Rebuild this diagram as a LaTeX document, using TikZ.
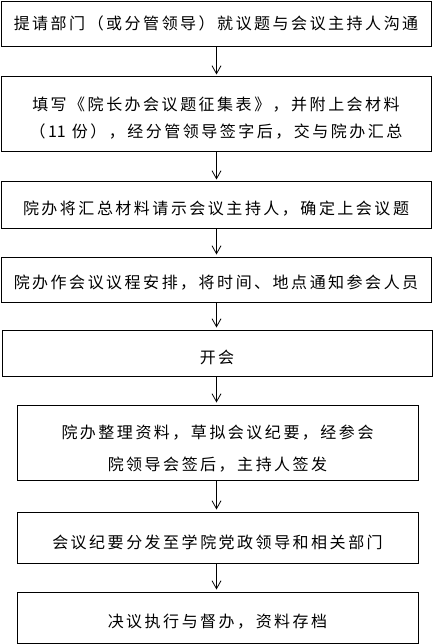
\documentclass[tikz,border=0pt]{standalone}
\usepackage{fontspec}
\newfontfamily\cjk{Noto Sans CJK SC}
\usetikzlibrary{arrows.meta}
\makeatletter
\def\lsp#1{\lsp@a#1\relax}
\def\lsp@a#1{#1\lsp@b}
\def\lsp@b#1{\ifx\relax#1\else\kern2.5pt\relax #1\expandafter\lsp@b\fi}
\makeatother
\tikzset{
  stepbox/.style={draw=black, line width=1pt, rectangle, inner sep=0pt, outer sep=0pt},
  wide/.style={stepbox, minimum width=430pt},
  narrow/.style={stepbox, minimum width=401pt},
  txt/.style={inner sep=0pt, font=\cjk\fontsize{16}{27}\selectfont, text=black},
  flow/.style={draw=black, line width=0.8pt, -{Straight Barb[length=8pt,width=9pt]}, shorten >=2.5pt}
}
\begin{document}
\begin{tikzpicture}[x=1pt,y=-1pt]
\useasboundingbox (0,0) rectangle (433,644);
\node[wide, minimum height=45pt] (b1) at (216,24.5) {};
\node[wide, minimum height=75pt] (b2) at (216,114.5) {};
\node[wide, minimum height=46pt] (b3) at (216,205) {};
\node[wide, minimum height=45pt] (b4) at (216,279.5) {};
\node[wide, minimum height=46pt] (b5) at (217,353) {};
\node[narrow, minimum height=75pt] (b6) at (217.5,442.5) {};
\node[narrow, minimum height=51pt] (b7) at (217.5,537.5) {};
\node[narrow, minimum height=51pt] (b8) at (217.5,617.5) {};

\node[txt] (t1) at ([yshift=1pt]b1.center) {\lsp{提请部门（或分管领导）就议题与会议主持人沟通}};
\node[txt, align=center] (t2) at ([yshift=-4pt]b2.center) {\lsp{填写《院长办会议题征集表》，并附上会材料}\\\lsp{（{11\ }份），经分管领导签字后，交与院办汇总}};
\node[txt] (t3) at ([yshift=-4pt]b3.center) {\lsp{院办将汇总材料请示会议主持人，确定上会议题}};
\node[txt] (t4) at ([yshift=-3pt]b4.center) {\lsp{院办作会议议程安排，将时间、地点通知参会人员}};
\node[txt] (t5) at ([yshift=-4pt]b5.center) {\lsp{开会}};
\node[txt, align=center, font=\cjk\fontsize{16}{32}\selectfont] (t6) at ([yshift=-6pt]b6.center) {\lsp{院办整理资料，草拟会议纪要，经参会}\\\lsp{院领导会签后，主持人签发}};
\node[txt] (t7) at ([yshift=-5pt]b7.center) {\lsp{会议纪要分发至学院党政领导和相关部门}};
\node[txt] (t8) at ([yshift=-4.5pt]b8.center) {\lsp{决议执行与督办，资料存档}};

\draw[flow] (b1.south -| 216.5,0) -- (b2.north -| 216.5,0);
\draw[flow] (b2.south -| 216.5,0) -- (b3.north -| 216.5,0);
\draw[flow] (b3.south -| 216.5,0) -- (b4.north -| 216.5,0);
\draw[flow] (b4.south -| 216.5,0) -- (b5.north -| 216.5,0);
\draw[flow] (b5.south -| 216.5,0) -- (b6.north -| 216.5,0);
\draw[flow] (b6.south -| 216.5,0) -- (b7.north -| 216.5,0);
\draw[flow] (b7.south -| 216.5,0) -- (b8.north -| 216.5,0);
\end{tikzpicture}
\end{document}
